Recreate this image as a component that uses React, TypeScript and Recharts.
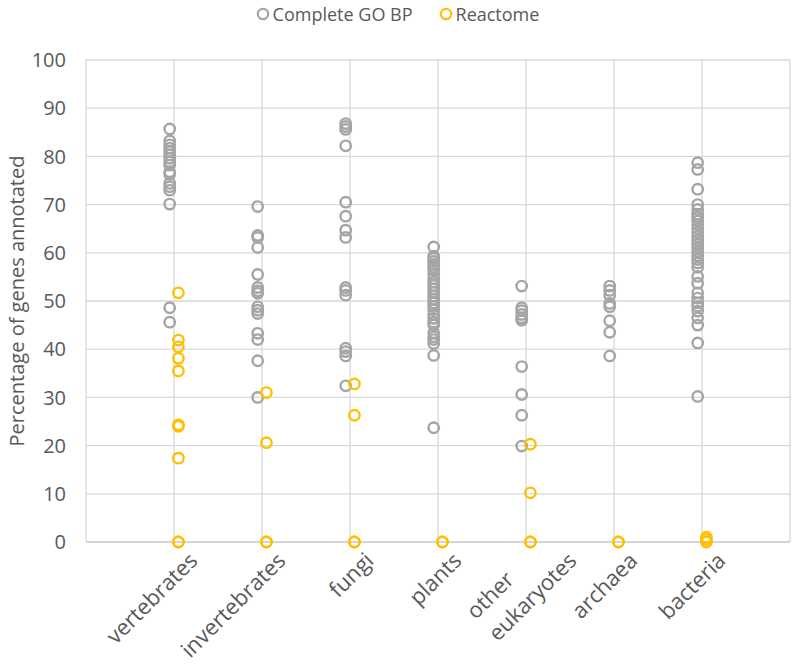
import React from 'react';
import { ScatterChart, Scatter, XAxis, YAxis, CartesianGrid, Label } from 'recharts';

const categories = ['vertebrates', 'invertebrates', 'fungi', 'plants', 'other eukaryotes', 'archaea', 'bacteria'];

// Complete GO BP, % of genes annotated per genome
const goVertebrates = [85.7, 83.2, 82.4, 81.7, 81.0, 80.3, 79.6, 78.9, 78.2, 76.8, 76.3, 74.4, 73.7, 73.0, 70.1, 48.6, 45.6];
const goInvertebrates = [69.6, 63.6, 63.2, 61.1, 55.5, 52.8, 52.1, 51.6, 48.8, 48.1, 47.4, 43.3, 42.0, 37.6, 30.0];
const goFungi = [86.8, 86.2, 85.6, 82.2, 70.5, 67.6, 64.7, 63.2, 52.8, 52.2, 51.2, 40.2, 39.5, 38.6, 32.4];
const goPlants = [61.2, 59.3, 58.8, 58.2, 57.6, 57.0, 56.4, 55.5, 54.6, 53.9, 53.2, 52.5, 51.8, 51.0, 50.3, 49.6, 48.9, 48.2, 47.2, 46.4, 45.6, 45.0, 43.4, 42.6, 42.0, 41.2, 38.7, 23.7];
const goOtherEuk = [53.1, 48.6, 48.0, 47.2, 46.5, 46.0, 36.4, 30.6, 26.3, 19.9];
const goArchaea = [53.1, 52.2, 51.2, 49.5, 48.8, 45.9, 43.5, 38.6];
const goBacteria = [78.7, 77.3, 73.2, 70.0, 69.0, 68.0, 67.4, 66.6, 65.8, 65.0, 64.2, 63.4, 62.6, 61.8, 61.0, 60.2, 59.4, 58.6, 57.9, 57.0, 55.1, 53.7, 51.7, 50.6, 49.6, 48.9, 47.9, 46.5, 45.0, 41.3, 30.2];

// Reactome
const rxVertebrates = [51.7, 41.9, 40.5, 38.1, 35.5, 24.3, 24.0, 17.4, 0, 0];
const rxInvertebrates = [31.0, 20.6, 0, 0];
const rxFungi = [32.8, 26.3, 0, 0];
const rxPlants = [0, 0];
const rxOtherEuk = [20.3, 10.2, 0, 0];
const rxArchaea = [0, 0];
const rxBacteria = [1.0, 0.5, 0];

const goValues = [goVertebrates, goInvertebrates, goFungi, goPlants, goOtherEuk, goArchaea, goBacteria];
const rxValues = [rxVertebrates, rxInvertebrates, rxFungi, rxPlants, rxOtherEuk, rxArchaea, rxBacteria];

const xTicks = [0, 1, 2, 3, 4, 5, 6, 7, 8];
const yTicks = [0, 10, 20, 30, 40, 50, 60, 70, 80, 90, 100];

const toPoints = (groups: number[][]) =>
  groups.flatMap((vals, i) => vals.map((v) => ({ x: i + 1, y: v })));

const goData = toPoints(goValues);
const rxData = toPoints(rxValues);

const GREY = '#a5a5a5';
const GOLD = '#ffc000';
const TEXT = '#595959';
const FONT = '"Open Sans", sans-serif';
const X_FONT_SIZE = 22;

let measureCtx: CanvasRenderingContext2D | null = null;
const textWidth = (s: string) => {
  if (!measureCtx) measureCtx = document.createElement('canvas').getContext('2d');
  if (!measureCtx) return s.length * X_FONT_SIZE * 0.5;
  measureCtx.font = `${X_FONT_SIZE}px "Open Sans"`;
  return measureCtx.measureText(s).width;
};

const XTick = (props: any) => {
  const { x, y, payload } = props;
  const idx = payload.value - 1;
  if (idx < 0 || idx >= categories.length) return <g />;
  const lines = categories[idx].split(' ');
  const w = Math.max(...lines.map(textWidth));
  const dx = lines.length > 1 ? 52 : 25;
  const lineH = 31;
  return (
    <g transform={`translate(${x + dx},${y + 20}) rotate(-45)`}>
      {lines.map((ln, i) => (
        <text
          key={ln}
          x={-w}
          y={(i - (lines.length - 1)) * lineH}
          textAnchor="start"
          fill={TEXT}
          fontSize={X_FONT_SIZE}
          fontFamily={FONT}
        >
          {ln}
        </text>
      ))}
    </g>
  );
};

const ringShape = (color: string, shift: number) => (props: any) => (
  <circle cx={props.cx + shift} cy={props.cy} r={5.2} fill="none" stroke={color} strokeWidth={2.4} />
);

const YLabel = (props: any) => {
  const vb = props.viewBox;
  const cx = vb.x + 16;
  const cy = vb.y + vb.height / 2;
  return (
    <text
      x={cx}
      y={cy}
      transform={`rotate(-90 ${cx} ${cy})`}
      textAnchor="middle"
      dominantBaseline="central"
      fill={TEXT}
      fontSize={20}
      fontFamily={FONT}
    >
      Percentage of genes annotated
    </text>
  );
};

const LegendItem = ({ color, label }: { color: string; label: string }) => (
  <div style={{ display: 'flex', alignItems: 'center', gap: 3 }}>
    <svg width={14} height={14}>
      <circle cx={7} cy={7} r={5.2} fill="none" stroke={color} strokeWidth={2.2} />
    </svg>
    <span>{label}</span>
  </div>
);

export default function App() {
  return (
    <div style={{ position: 'absolute', left: 0, top: 0, width: 795, height: 670, background: '#fff' }}>
      <div
        style={{
          position: 'absolute',
          top: 1,
          left: 0,
          width: 795,
          display: 'flex',
          justifyContent: 'center',
          gap: 26,
          fontFamily: FONT,
          fontSize: 18,
          color: TEXT,
          lineHeight: '26px',
        }}
      >
        <LegendItem color={GREY} label="Complete GO BP" />
        <LegendItem color={GOLD} label="Reactome" />
      </div>
      <ScatterChart width={795} height={670} margin={{ top: 60, right: 5, bottom: 8, left: 0 }}>
        <CartesianGrid stroke="#d9d9d9" strokeWidth={1.3} />
        <XAxis
          type="number"
          dataKey="x"
          domain={[0, 8]}
          ticks={xTicks}
          interval={0}
          height={120}
          tickLine={false}
          tickSize={0}
          tickMargin={0}
          axisLine={{ stroke: '#d0d0d0', strokeWidth: 1.3 }}
          tick={<XTick />}
        />
        <YAxis
          type="number"
          dataKey="y"
          domain={[0, 100]}
          ticks={yTicks}
          interval={0}
          width={86}
          tickLine={false}
          axisLine={false}
          tickSize={0}
          tickMargin={20}
          tick={{ fill: TEXT, fontSize: 20, fontFamily: FONT }}
        >
          <Label content={<YLabel />} />
        </YAxis>
        <Scatter name="Complete GO BP" data={goData} shape={ringShape(GREY, -4.3)} isAnimationActive={false} />
        <Scatter name="Reactome" data={rxData} shape={ringShape(GOLD, 4.4)} isAnimationActive={false} />
      </ScatterChart>
    </div>
  );
}
